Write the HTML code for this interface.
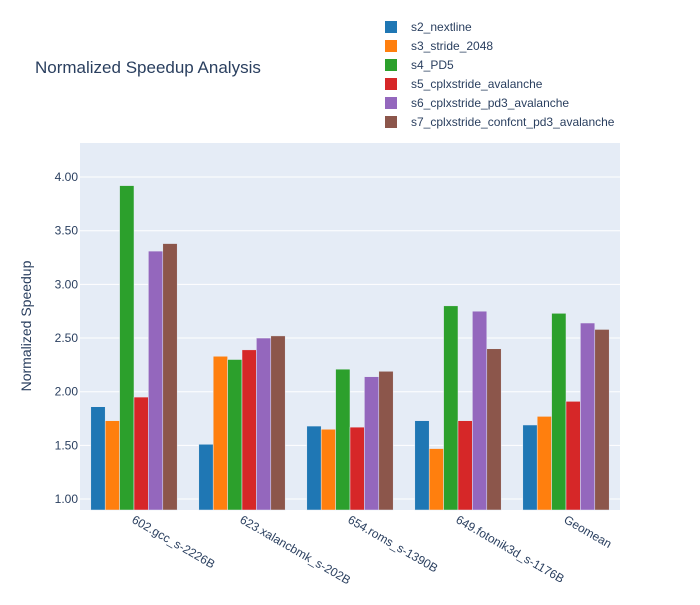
<!DOCTYPE html>
<html><head><meta charset="utf-8"><style>
body{margin:0;background:#fff;}
svg text{font-family:"Liberation Sans",sans-serif;fill:#2a3f5f;}
</style></head><body>
<svg id="chart" width="700" height="600" xmlns="http://www.w3.org/2000/svg">
<rect x="0" y="0" width="700" height="600" fill="#fff"/>
<text x="35" y="73" font-size="17">Normalized Speedup Analysis</text>
<rect x="80" y="143" width="540" height="367" fill="#e5ecf6"/>
<g id="grid"></g><g id="bars"></g><g id="xlabels"></g><g id="legend"></g>
<text transform="translate(31,326) rotate(-90)" text-anchor="middle" font-size="14">Normalized Speedup</text>
</svg>
<script>
const categories=["602.gcc_s-2226B","623.xalancbmk_s-202B","654.roms_s-1390B","649.fotonik3d_s-1176B","Geomean"];
const seriesNames=["s2_nextline","s3_stride_2048","s4_PD5","s5_cplxstride_avalanche","s6_cplxstride_pd3_avalanche","s7_cplxstride_confcnt_pd3_avalanche"];
const s2=[1.86,1.51,1.68,1.73,1.69];
const s3=[1.73,2.33,1.65,1.47,1.77];
const s4=[3.92,2.30,2.21,2.80,2.73];
const s5=[1.95,2.39,1.67,1.73,1.91];
const s6=[3.31,2.50,2.14,2.75,2.64];
const s7=[3.38,2.52,2.19,2.40,2.58];
const yTicks=[1.00,1.50,2.00,2.50,3.00,3.50,4.00];
const series=[s2,s3,s4,s5,s6,s7];
const colors=["#1f77b4","#ff7f0e","#2ca02c","#d62728","#9467bd","#8c564b"];
const NS="http://www.w3.org/2000/svg";
const X0=80,X1=620,Y0=143,Y1=510,ymin=0.898,ymax=4.317;
function y(v){return Y1-(v-ymin)/(ymax-ymin)*(Y1-Y0);}
const band=(X1-X0)/categories.length;
function xc(i){return X0+band*(i+0.5);}
function mk(tag,attrs,parent){const e=document.createElementNS(NS,tag);for(const k in attrs)e.setAttribute(k,attrs[k]);document.getElementById(parent).appendChild(e);return e;}
yTicks.forEach(t=>{
 const l=mk("line",{x1:X0,x2:X1,y1:y(t),y2:y(t),stroke:"#fff","stroke-width":1},"grid");
 
 
 const tx=mk("text",{x:X0-2,y:y(t)+4,"text-anchor":"end","font-size":12},"grid");
 tx.textContent=t.toFixed(2);
 
 
});
const gw=band*0.8,bw=gw/series.length;
series.forEach((s,si)=>{s.forEach((v,i)=>{
 const x=xc(i)-gw/2+si*bw;
 const r=mk("rect",{x:x,y:y(v),width:bw,height:Y1-y(v),fill:colors[si],stroke:"#e5ecf6","stroke-width":0.5},"bars");
 
 
});});
categories.forEach((c,i)=>{
 const t=mk("text",{transform:"translate("+(xc(i)-3)+",522) rotate(30)","font-size":12},"xlabels");
 t.textContent=c;
 
 
});
seriesNames.forEach((n,i)=>{
 const yy=27+i*19;
 const r=mk("rect",{x:385,y:yy-6,width:12,height:12,fill:colors[i]},"legend");
 
 
 const t=mk("text",{x:411,y:yy+4,"font-size":12},"legend");
 t.textContent=n;
 
 
});
</script>
</body></html>
